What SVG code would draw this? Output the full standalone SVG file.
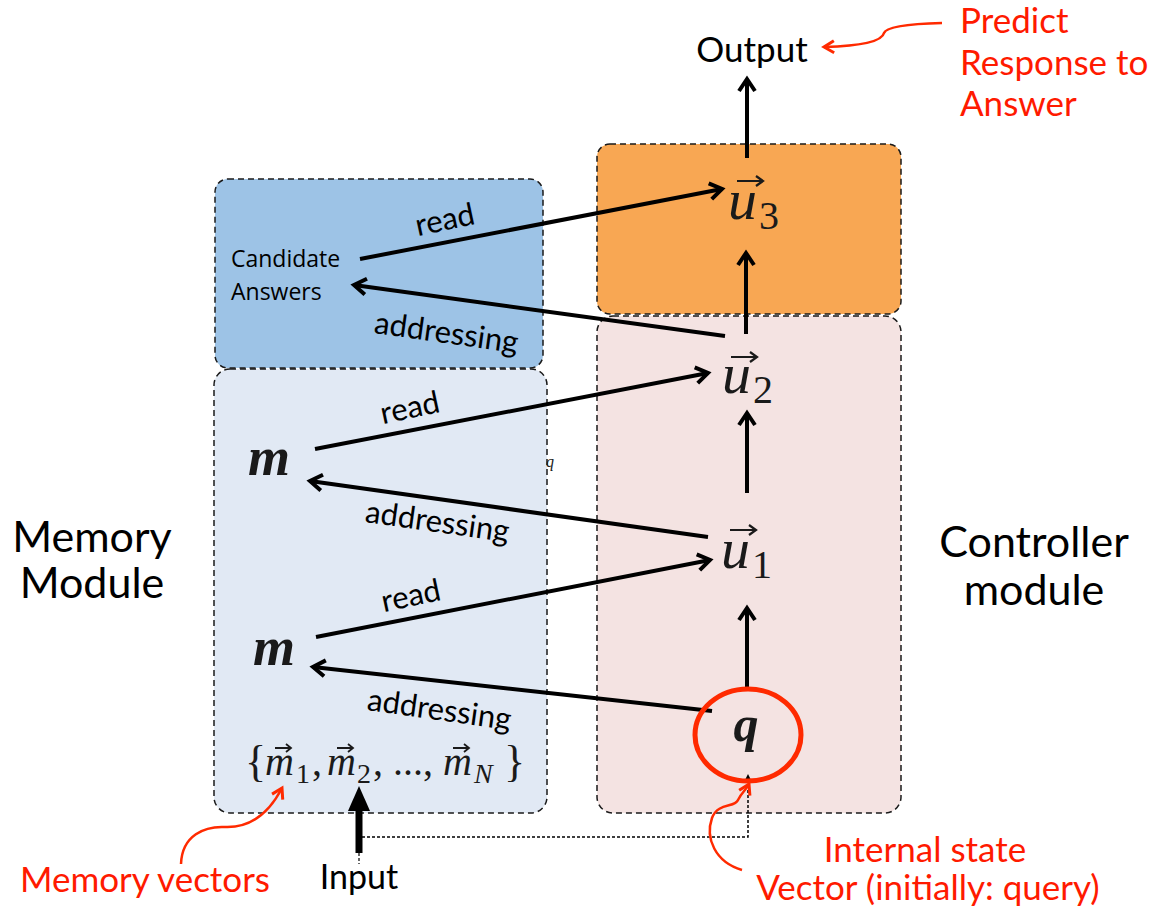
<svg xmlns="http://www.w3.org/2000/svg" xmlns:xlink="http://www.w3.org/1999/xlink" width="1154" height="915" viewBox="0 0 1154 915">
<style>
.box{stroke:#1a1a1a;stroke-width:1.5;stroke-dasharray:6 4}
.conn{stroke:#000;stroke-width:4;fill:none}
.lbl{font-family:Lato,"Open Sans",sans-serif;font-size:31px;fill:#000}
.big{font-family:Lato,"Open Sans",sans-serif;font-size:43px;fill:#000}
.red{font-family:Lato,"Open Sans",sans-serif;font-size:35px;fill:#ff1a00}
.math{font-family:"Liberation Serif",serif;font-style:italic;fill:#1a1a1a}
.sub{font-family:"Liberation Serif",serif;fill:#1a1a1a}
.rc{stroke:#ff2a00;stroke-width:2.5;fill:none}
</style>
<defs>
<marker id="ah" markerWidth="22" markerHeight="22" refX="17" refY="11" orient="auto" markerUnits="userSpaceOnUse"><path d="M5,3 L17,11 L5,19" fill="none" stroke="#000" stroke-width="4"/></marker>
<marker id="rh" markerWidth="20" markerHeight="20" refX="15" refY="10" orient="auto" markerUnits="userSpaceOnUse"><path d="M5,4 L15,10 L5,16" fill="none" stroke="#ff2a00" stroke-width="3"/></marker>
<marker id="fh" markerWidth="30" markerHeight="30" refX="15" refY="24" orient="0" markerUnits="userSpaceOnUse"><path d="M4,25 L15,0 L26,25 Z" fill="#000"/></marker>
<marker id="sh" markerWidth="12" markerHeight="12" refX="6" refY="2" orient="0" markerUnits="userSpaceOnUse"><path d="M2,8 L6,0 L10,8 Z" fill="#000"/></marker>
<path id="vec" d="M0,0 H26 M19,-5 L26,0 L19,5" stroke="#1a1a1a" stroke-width="2.2" fill="none"/>
<path id="vecs" d="M0,0 H16 M11,-4 L16,0 L11,4" stroke="#1a1a1a" stroke-width="1.8" fill="none"/>
</defs>

<g id="candidate-box"><rect class="box" x="215" y="179" width="328" height="189" rx="13" fill="#9dc3e6"/>
<text x="231" y="267" font-family="'Open Sans',sans-serif" font-size="23" fill="#000">Candidate</text>
<text x="231" y="300" font-family="'Open Sans',sans-serif" font-size="23" fill="#000">Answers</text></g>

<g id="memory-box"><rect class="box" x="214" y="369" width="333" height="444" rx="16" fill="#e1e9f4"/></g>
<g id="u3-box"><rect class="box" x="597" y="144" width="304" height="170" rx="13" fill="#f8a753"/></g>
<g id="controller-box"><rect class="box" x="597" y="316" width="304" height="497" rx="16" fill="#f4e3e2"/></g>

<g id="connectors">
<line class="conn" x1="360" y1="259" x2="722" y2="189" marker-end="url(#ah)"/>
<line class="conn" x1="725" y1="336" x2="354" y2="285" marker-end="url(#ah)"/>
<line class="conn" x1="315" y1="449" x2="708" y2="373" marker-end="url(#ah)"/>
<line class="conn" x1="708" y1="537" x2="310" y2="481" marker-end="url(#ah)"/>
<line class="conn" x1="316" y1="637" x2="710" y2="560" marker-end="url(#ah)"/>
<line class="conn" x1="712" y1="711" x2="313" y2="667" marker-end="url(#ah)"/>
<line class="conn" x1="747" y1="687" x2="747" y2="608" marker-end="url(#ah)"/>
<line class="conn" x1="747" y1="493" x2="747" y2="413" marker-end="url(#ah)"/>
<line class="conn" x1="746" y1="334" x2="746" y2="253" marker-end="url(#ah)"/>
<line class="conn" x1="747" y1="158" x2="747" y2="79" marker-end="url(#ah)"/>
<line x1="359" y1="853" x2="359" y2="810" stroke="#000" stroke-width="7" marker-end="url(#fh)"/>
<line x1="359" y1="853" x2="359" y2="864" stroke="#000" stroke-width="1.2" stroke-dasharray="3 2"/>
<polyline points="362,837 748,837 748,776" fill="none" stroke="#000" stroke-width="1.5" stroke-dasharray="3 2" marker-end="url(#sh)"/>
<path class="rc" d="M942,23 C905,24 886,27 884,33 C882,42 860,46 824,47" marker-end="url(#rh)"/>
<path class="rc" d="M181,864 C182,835 205,826 225,827 C250,828 268,815 282,788" marker-end="url(#rh)"/>
<path class="rc" d="M742,870 C715,862 705,838 712,818 C718,802 735,808 738,800 C742,792 746,790 749,784" marker-end="url(#rh)"/>
</g>

<g id="labels">
<text class="lbl" transform="translate(447,230) rotate(-12)" text-anchor="middle">read</text>
<text class="lbl" transform="translate(445,343) rotate(8)" text-anchor="middle">addressing</text>
<text class="lbl" transform="translate(412,418) rotate(-12)" text-anchor="middle">read</text>
<text class="lbl" transform="translate(436,532) rotate(8)" text-anchor="middle">addressing</text>
<text class="lbl" transform="translate(413,606) rotate(-12)" text-anchor="middle">read</text>
<text class="lbl" transform="translate(438,720) rotate(8)" text-anchor="middle">addressing</text>
</g>

<g id="output"><text x="752" y="62" font-family="Lato,'Open Sans',sans-serif" font-size="35" fill="#000" text-anchor="middle">Output</text></g>

<g id="u3"><text class="math" x="728" y="219" font-size="58">u</text><text class="sub" x="759" y="229" font-size="40">3</text><use xlink:href="#vec" x="737" y="181"/></g>
<g id="u2"><text class="math" x="722" y="393" font-size="58">u</text><text class="sub" x="753" y="403" font-size="40">2</text><use xlink:href="#vec" x="731" y="357"/></g>
<g id="u1"><text class="math" x="721" y="568" font-size="58">u</text><text class="sub" x="752" y="578" font-size="40">1</text><use xlink:href="#vec" x="730" y="530"/></g>

<g id="q"><ellipse cx="748" cy="735" rx="53" ry="46" fill="none" stroke="#ff2a00" stroke-width="5"/>
<text class="math" x="746" y="741" font-size="50" font-weight="bold" text-anchor="middle" fill="#000">q</text></g>

<g id="m-upper"><text class="math" x="248" y="475" font-size="54" font-weight="bold" fill="#000">m</text></g>
<g id="m-lower"><text class="math" x="253" y="665" font-size="54" font-weight="bold" fill="#000">m</text></g>
<text class="math" x="546" y="467" font-size="16">q</text>

<g id="memory-set">
<text class="sub" x="245" y="776" font-size="44">{</text>
<text class="math" x="265" y="775" font-size="40">m</text><text class="sub" x="296" y="783" font-size="28">1</text><text class="sub" x="312" y="775" font-size="40">,</text>
<use xlink:href="#vecs" x="275" y="748"/>
<text class="math" x="327" y="775" font-size="40">m</text><text class="sub" x="357" y="783" font-size="28">2</text><text class="sub" x="373" y="775" font-size="40">,</text>
<use xlink:href="#vecs" x="337" y="748"/>
<text class="sub" x="393" y="775" font-size="40">...,</text>
<text class="math" x="443" y="775" font-size="40">m</text><text class="math" x="474" y="783" font-size="28">N</text>
<use xlink:href="#vecs" x="453" y="748"/>
<text class="sub" x="504" y="776" font-size="44">}</text>
</g>

<g id="annotations">
<text class="big" x="92" y="552" text-anchor="middle">Memory</text>
<text class="big" x="92" y="598" text-anchor="middle">Module</text>
<text class="big" x="1034" y="557" text-anchor="middle">Controller</text>
<text class="big" x="1034" y="605" text-anchor="middle">module</text>
<text class="red" x="960" y="33">Predict</text>
<text class="red" x="960" y="75">Response to</text>
<text class="red" x="960" y="116">Answer</text>
<text x="359" y="889" font-family="Lato,'Open Sans',sans-serif" font-size="34" text-anchor="middle" fill="#000">Input</text>
<text class="red" x="145" y="892" text-anchor="middle">Memory vectors</text>
<text class="red" x="925" y="862" text-anchor="middle" font-size="33">Internal state</text>
<text class="red" x="928" y="900" text-anchor="middle" font-size="33">Vector (initially: query)</text>
</g>
</svg>
